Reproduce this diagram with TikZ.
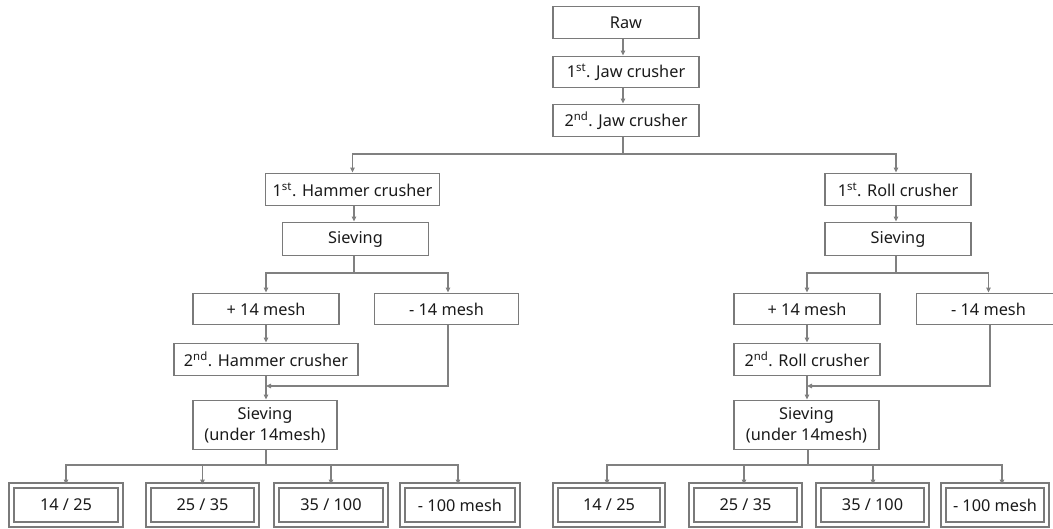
\documentclass[tikz,border=0pt]{standalone}
\usepackage{fontspec}
\setmainfont{Noto Sans}
\usetikzlibrary{arrows.meta}
\definecolor{boxgray}{HTML}{7A7A7A}
\definecolor{lngray}{HTML}{808080}
\definecolor{txt}{HTML}{1A1A1A}
\tikzset{
  stepbox/.style={draw=boxgray, line width=1.9pt, text=txt, inner sep=0pt,
    font=\fontsize{16.3}{21}\selectfont, align=center},
  dblbox/.style={draw=boxgray, line width=1.9pt, double=white, double distance=3pt,
    text=txt, inner sep=0pt, font=\fontsize{16.3}{21}\selectfont, minimum height=39pt},
  ln/.style={draw=lngray, line width=1.2pt},
  arr/.style={ln, -{Triangle[length=5pt,width=4.5pt]}}
}
\newcommand{\sps}[1]{\textsuperscript{#1}}
\begin{document}
\begin{tikzpicture}[x=1pt,y=-1pt]
\useasboundingbox (0,0) rectangle (1053,528);
% top chain
\node[stepbox, minimum width=146pt, minimum height=32pt] (raw)  at (626,22.5) {Raw};
\node[stepbox, minimum width=146pt, minimum height=31pt] (jaw1) at (626,72)   {1\sps{st}. Jaw crusher};
\node[stepbox, minimum width=146pt, minimum height=32pt] (jaw2) at (626,120.5) {2\sps{nd}. Jaw crusher};
% left branch
\node[stepbox, minimum width=174pt, minimum height=32pt] (ham1)  at (352.5,189.5) {1\sps{st}. Hammer crusher};
\node[stepbox, minimum width=146pt, minimum height=33pt] (sievL) at (355.5,239) {Sieving};
\node[stepbox, minimum width=146pt, minimum height=31pt] (plusL) at (266,309) {+ 14 mesh};
\node[stepbox, minimum width=144pt, minimum height=31pt] (minusL) at (446.5,309) {- 14 mesh};
\node[stepbox, minimum width=184pt, minimum height=32pt] (ham2)  at (266,359.5) {2\sps{nd}. Hammer crusher};
\node[stepbox, minimum width=144pt, minimum height=49pt] (sieveL2) at (265,425) {Sieving\\(under 14mesh)};
% right branch
\node[stepbox, minimum width=146pt, minimum height=32pt] (roll1)  at (898,189.5) {1\sps{st}. Roll crusher};
\node[stepbox, minimum width=146pt, minimum height=33pt] (sievR)  at (898,239) {Sieving};
\node[stepbox, minimum width=146pt, minimum height=31pt] (plusR)  at (807,309) {+ 14 mesh};
\node[stepbox, minimum width=144pt, minimum height=31pt] (minusR) at (988.5,309) {- 14 mesh};
\node[stepbox, minimum width=146pt, minimum height=32pt] (roll2)  at (807,359.5) {2\sps{nd}. Roll crusher};
\node[stepbox, minimum width=145pt, minimum height=49pt] (sieveR2) at (806.5,425) {Sieving\\(under 14mesh)};
% bottom products left
\node[dblbox, minimum width=109pt] (bl1) at (66,505) {14 / 25};
\node[dblbox, minimum width=108pt] (bl2) at (202.5,505) {25 / 35};
\node[dblbox, minimum width=109pt] (bl3) at (331,505) {35 / 100};
\node[dblbox, minimum width=115pt] (bl4) at (460,505) {- 100 mesh};
% bottom products right
\node[dblbox, minimum width=107pt] (br1) at (609,505) {14 / 25};
\node[dblbox, minimum width=108pt] (br2) at (745.5,505) {25 / 35};
\node[dblbox, minimum width=108pt] (br3) at (872.5,505) {35 / 100};
\node[dblbox, minimum width=103pt] (br4) at (995,505) {- 100 mesh};
% junction coordinates
\coordinate (tj) at (623,154);
\coordinate (sjL) at (354,273);
\coordinate (mjL) at (266,386);
\coordinate (bjL) at (266,465);
\coordinate (sjR) at (896,273);
\coordinate (mjR) at (807,386);
\coordinate (bjR) at (808,465);
% connectors top
\draw[arr] (raw.south -| tj) -- (jaw1.north -| tj);
\draw[arr] (jaw1.south -| tj) -- (jaw2.north -| tj);
\draw[ln] (jaw2.south -| tj) -- (tj);
\draw[arr] (tj) -| (ham1.north);
\draw[arr] (tj) -| (roll1.north -| sjR);
% left branch connectors
\draw[arr] (ham1.south -| sjL) -- (sievL.north -| sjL);
\draw[ln] (sievL.south -| sjL) -- (sjL);
\draw[arr] (sjL) -| (plusL.north);
\draw[arr] (sjL) -| (minusL.north -| 448,0);
\draw[arr] (plusL.south) -- (ham2.north);
\draw[arr] (ham2.south) -- (sieveL2.north -| ham2.south);
\draw[arr] (minusL.south -| 448,0) |- (mjL);
\draw[ln] (sieveL2.south -| mjL) -- (bjL);
\draw[arr] (bjL) -| (bl1.north);
\draw[arr] (bjL) -| (bl2.north);
\draw[arr] (bjL) -| (bl3.north);
\draw[arr] (bjL) -| (bl4.north -| 458,0);
% right branch connectors
\draw[arr] (roll1.south -| sjR) -- (sievR.north -| sjR);
\draw[ln] (sievR.south -| sjR) -- (sjR);
\draw[arr] (sjR) -| (plusR.north);
\draw[arr] (sjR) -| (minusR.north);
\draw[arr] (plusR.south) -- (roll2.north);
\draw[arr] (roll2.south) -- (sieveR2.north -| roll2.south);
\draw[arr] (minusR.south -| 990,0) |- (mjR);
\draw[ln] (sieveR2.south -| bjR) -- (bjR);
\draw[arr] (bjR) -| (br1.north -| 607,0);
\draw[arr] (bjR) -| (br2.north -| 744,0);
\draw[arr] (bjR) -| (br3.north -| 873,0);
\draw[arr] (bjR) -| (br4.north -| 1002,0);
\end{tikzpicture}
\end{document}
